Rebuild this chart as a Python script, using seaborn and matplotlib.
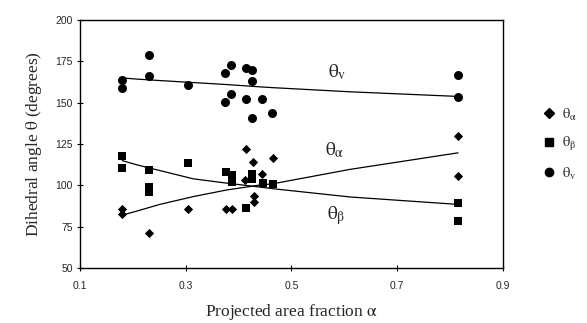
import pandas as pd
import matplotlib
matplotlib.use("Agg")
import matplotlib.pyplot as plt
import seaborn as sns
from matplotlib.lines import Line2D

alpha_x = [0.18, 0.18, 0.23, 0.305, 0.377, 0.387, 0.414, 0.427, 0.412, 0.445, 0.466, 0.43, 0.43, 0.815, 0.815]
alpha_y = [86, 82.5, 71, 86, 85.5, 85.5, 122, 114, 103, 107, 116.5, 93.5, 90, 130, 105.5]

beta_x = [0.18, 0.18, 0.23, 0.23, 0.23, 0.305, 0.377, 0.387, 0.387, 0.414, 0.425, 0.425, 0.447, 0.466, 0.815, 0.815]
beta_y = [117.5, 110.5, 109.5, 99, 96, 113.5, 108, 106, 102, 86.5, 107, 104, 101.6, 100.6, 89.3, 78.3]

nu_x = [0.18, 0.18, 0.23, 0.23, 0.305, 0.375, 0.385, 0.385, 0.375, 0.415, 0.425, 0.425, 0.415, 0.425, 0.444, 0.464, 0.815, 0.815]
nu_y = [164, 159, 179, 166, 161, 168, 173, 155, 150.5, 171, 169.5, 163, 152, 141, 152, 143.5, 167, 153.5]

# trend lines
fit_x = [0.18, 0.207, 0.251, 0.314, 0.377, 0.44, 0.465, 0.611, 0.815]
fit_alpha = [82, 84.4, 88.5, 93.2, 97.2, 100.2, 101, 109.7, 119.7]
fit_beta = [115, 112.5, 109, 104, 101.4, 99, 98, 93, 88.5]
fit_nu = [165, 164.3, 163.4, 162.2, 161, 159.6, 159.1, 156.6, 153.8]

names = ["alpha", "beta", "nu"]
labels = [r"$\theta_\alpha$", r"$\theta_\beta$", r"$\theta_v$"]
marks = {"alpha": "D", "beta": "s", "nu": "o"}
sizes = {"alpha": 22, "beta": 36, "nu": 42}


def main():
    sns.set_theme(style="ticks")
    plt.rcParams["font.family"] = ["Liberation Serif", "DejaVu Serif"]
    plt.rcParams["mathtext.fontset"] = "stix"
    plt.rcParams["mathtext.default"] = "rm"

    pts = pd.concat([
        pd.DataFrame({"x": alpha_x, "y": alpha_y, "s": "alpha"}),
        pd.DataFrame({"x": beta_x, "y": beta_y, "s": "beta"}),
        pd.DataFrame({"x": nu_x, "y": nu_y, "s": "nu"}),
    ])
    fits = pd.DataFrame({"x": fit_x, "alpha": fit_alpha, "beta": fit_beta, "nu": fit_nu})

    fig = plt.figure(figsize=(5.87, 3.23), dpi=100)
    ax = fig.add_axes([0.136, 0.170, 0.721, 0.768])

    for n in names:
        sub = pts[pts["s"] == n]
        sns.scatterplot(data=sub, x="x", y="y", marker=marks[n], s=sizes[n],
                        color="black", edgecolor="black", linewidth=0, ax=ax, legend=False)
        sns.lineplot(data=fits, x="x", y=n, color="black", linewidth=0.9, ax=ax)

    ax.set_xlim(0.1, 0.9)
    ax.set_ylim(50, 200)
    ax.set_xticks([0.1, 0.3, 0.5, 0.7, 0.9])
    ax.set_yticks(range(50, 201, 25))
    ax.set_xticklabels(["0.1", "0.3", "0.5", "0.7", "0.9"], family="Liberation Sans", fontsize=7.5)
    ax.set_yticklabels([str(v) for v in range(50, 201, 25)], family="Liberation Sans", fontsize=7.5)
    ax.tick_params(direction="inout", length=4, width=0.8, color="black")
    ax.tick_params(axis="x", pad=7)
    ax.tick_params(axis="y", pad=3)
    for sp in ax.spines.values():
        sp.set_color("black")
        sp.set_linewidth(1.0)

    ax.set_xlabel(r"Projected area fraction $\alpha$", fontsize=12.5, labelpad=8)
    ax.set_ylabel(r"Dihedral angle $\theta$ (degrees)", fontsize=12.5, labelpad=8)

    ax.text(0.586, 168.5, r"$\theta_v$", fontsize=14, ha="center", va="center")
    ax.text(0.582, 121.3, r"$\theta_\alpha$", fontsize=14, ha="center", va="center")
    ax.text(0.585, 82, r"$\theta_\beta$", fontsize=14, ha="center", va="center")

    handles = [Line2D([], [], marker=marks[n], color="black", linestyle="",
                      markersize=5 if n == "alpha" else 6) for n in names]
    ax.legend(handles, labels, loc="center left", bbox_to_anchor=(1.092, 0.5),
              frameon=False, fontsize=10.5, handletextpad=0.4, labelspacing=0.85,
              handlelength=1.0, borderaxespad=0, borderpad=0)

    fig.savefig("out.png", dpi=100)


if __name__ == "__main__":
    main()
